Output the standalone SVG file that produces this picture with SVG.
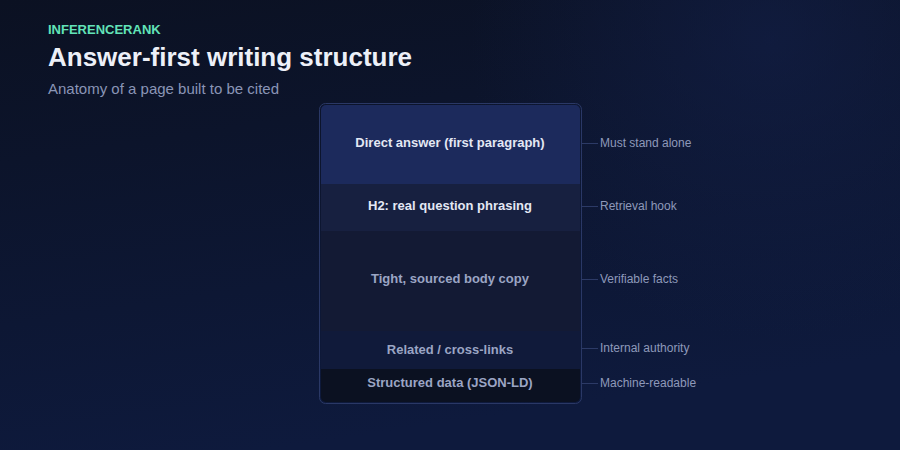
<svg xmlns="http://www.w3.org/2000/svg" width="900" height="450" viewBox="0 0 900 450">
<defs>
<linearGradient id="bg" x1="0" y1="0" x2="0.3" y2="1">
<stop offset="0" stop-color="#0b1122"/>
<stop offset="1" stop-color="#0e1a3d"/>
</linearGradient>
<radialGradient id="glow" cx="770" cy="40" r="300" gradientUnits="userSpaceOnUse">
<stop offset="0" stop-color="#13204a" stop-opacity="0.6"/>
<stop offset="1" stop-color="#13204a" stop-opacity="0"/>
</radialGradient>
<clipPath id="card"><rect x="321" y="105" width="259" height="297" rx="5"/></clipPath>
<style>
.sec{font-family:"Liberation Sans",Arial,sans-serif;font-size:13px;font-weight:bold;text-anchor:middle}
.lbl{font-family:"Liberation Sans",Arial,sans-serif;font-size:12px;fill:#8e99ba}
.con{stroke:#2c3a66;stroke-width:1;fill:none}
</style>
</defs>
<rect width="900" height="450" fill="url(#bg)"/>
<rect width="900" height="450" fill="url(#glow)"/>
<text x="48" y="34" font-family="Liberation Sans,Arial,sans-serif" font-size="13" font-weight="bold" fill="#62e3b8">INFERENCERANK</text>
<text x="48" y="66" font-family="Liberation Sans,Arial,sans-serif" font-size="26" font-weight="bold" fill="#edf0f8">Answer-first writing structure</text>
<text x="48" y="94" font-family="Liberation Sans,Arial,sans-serif" font-size="15" fill="#8a95b6">Anatomy of a page built to be cited</text>
<rect x="319.5" y="103.5" width="262" height="300" rx="6" fill="none" stroke="#2a3866" stroke-width="1"/>
<g clip-path="url(#card)">
<g id="direct"><rect x="321" y="105" width="259" height="79" fill="#1c2a5c"/><text class="sec" x="450" y="147" fill="#e4e8f4">Direct answer (first paragraph)</text></g>
<g id="h2"><rect x="321" y="184" width="259" height="47" fill="#172040"/><text class="sec" x="450" y="210" fill="#e4e8f4">H2: real question phrasing</text></g>
<g id="body"><rect x="321" y="231" width="259" height="100" fill="#131a34"/><text class="sec" x="450" y="283" fill="#9ba5c4">Tight, sourced body copy</text></g>
<g id="related"><rect x="321" y="331" width="259" height="38" fill="#101a3a"/><text class="sec" x="450" y="354" fill="#9ba5c4">Related / cross-links</text></g>
<g id="structured"><rect x="321" y="369" width="259" height="33" fill="#0b1121"/><text class="sec" x="450" y="387" fill="#9ba5c4">Structured data (JSON-LD)</text></g>
</g>
<g id="connectors">
<line class="con" x1="581" y1="143.5" x2="598" y2="143.5"/>
<line class="con" x1="581" y1="206.5" x2="598" y2="206.5"/>
<line class="con" x1="581" y1="279.5" x2="598" y2="279.5"/>
<line class="con" x1="581" y1="348.5" x2="598" y2="348.5"/>
<line class="con" x1="581" y1="383.5" x2="598" y2="383.5"/>
</g>
<g id="labels">
<text class="lbl" x="600" y="147">Must stand alone</text>
<text class="lbl" x="600" y="210">Retrieval hook</text>
<text class="lbl" x="600" y="283">Verifiable facts</text>
<text class="lbl" x="600" y="352">Internal authority</text>
<text class="lbl" x="600" y="387">Machine-readable</text>
</g>
</svg>
